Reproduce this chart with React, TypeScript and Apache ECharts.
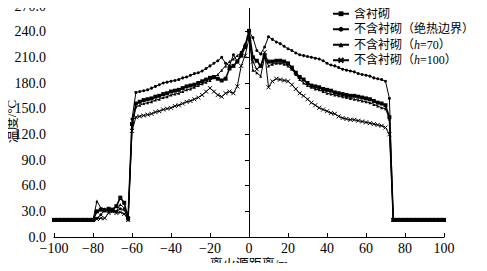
import React, { useEffect, useRef } from "react";
import * as echarts from "echarts";

const distance: number[] = [];
for (let x = -100; x <= 100; x += 2) distance.push(x);

const seriesNames = ["含衬砌", "不含衬砌（绝热边界）", "不含衬砌（h=70）", "不含衬砌（h=100）"];

const base11 = [20, 20, 20, 20, 20, 20, 20, 20, 20, 20, 20]; // -100..-80
const tail13 = [20, 20, 20, 20, 20, 20, 20, 20, 20, 20, 20, 20, 20]; // 76..100

// 含衬砌 (-78 .. 74)
const withLining = [
  ...base11,
  30, 32, 31, 33, 32, 36, 46, 40, 22, 132,
  156, 158, 160, 161, 162, 164, 165, 167, 168, 170,
  171, 172, 174, 176, 177, 178, 180, 182, 184, 186,
  187, 185, 183, 185, 197, 200, 205, 212, 222, 241,
  210, 206, 200, 212, 205, 205, 206, 206, 205, 203,
  198, 192, 187, 184, 180, 177, 176, 175, 173, 172,
  171, 169, 168, 167, 166, 165, 165, 164, 163, 162,
  161, 159, 157, 156, 154, 140, 20,
  ...tail13,
];

const adiabatic = [
  ...base11,
  22, 26, 32, 31, 30, 30, 33, 32, 20, 138,
  169, 170, 171, 172, 174, 176, 178, 180, 181, 182,
  183, 184, 186, 187, 189, 191, 192, 194, 197, 200,
  203, 206, 210, 203, 200, 213, 205, 216, 225, 240,
  233, 218, 214, 222, 234, 231, 228, 226, 223, 220,
  218, 215, 213, 212, 211, 210, 209, 208, 206, 203,
  201, 200, 198, 196, 195, 194, 193, 191, 190, 189,
  188, 186, 185, 184, 182, 162, 20,
  ...tail13,
];

const h70 = [
  ...base11,
  42, 34, 33, 30, 32, 30, 38, 34, 21, 128,
  152, 154, 156, 157, 158, 160, 161, 163, 164, 166,
  167, 168, 170, 172, 173, 175, 177, 179, 181, 183,
  186, 190, 195, 200, 205, 208, 212, 215, 225, 235,
  195, 192, 188, 210, 200, 202, 203, 203, 202, 200,
  196, 190, 184, 180, 177, 175, 173, 172, 170, 168,
  167, 166, 165, 164, 163, 162, 161, 160, 159, 158,
  157, 155, 153, 151, 150, 138, 20,
  ...tail13,
];

const h100 = [
  ...base11,
  21, 22, 22, 28, 30, 28, 29, 27, 20, 124,
  140, 141, 142, 143, 144, 146, 147, 149, 150, 151,
  153, 154, 156, 158, 159, 161, 163, 166, 170, 174,
  170, 166, 164, 168, 170, 168, 176, 200, 212, 232,
  205, 196, 200, 216, 175, 182, 185, 184, 183, 182,
  178, 173, 168, 165, 161, 157, 154, 151, 149, 147,
  145, 144, 141, 139, 138, 137, 137, 136, 135, 134,
  133, 132, 131, 130, 128, 120, 20,
  ...tail13,
];

const seriesValues = [withLining, adiabatic, h70, h100];
const symbols = ["rect", "circle", "triangle", "path://M0,0L10,10M10,0L0,10"];
const symbolSizes = [4, 3, 3, 4];
const lineWidths = [1.6, 1, 1, 1];

const serif = "'Liberation Serif', 'Times New Roman', 'Noto Sans CJK SC', serif";

export default function App() {
  const ref = useRef<HTMLDivElement>(null);
  useEffect(() => {
    if (!ref.current) return;
    const chart = echarts.init(ref.current, null, { renderer: "svg" });
    const fmtX = (v: number) => (v < 0 ? "\u2212" + Math.abs(v) : String(v));
    chart.setOption({
      animation: false,
      backgroundColor: "#fff",
      grid: {
        left: 54,
        right: 43,
        top: 6,
        bottom: 34,
        containLabel: false,
        outerBoundsMode: "none",
      },
      legend: {
        orient: "vertical",
        left: 332,
        top: 7,
        padding: 0,
        itemWidth: 16,
        itemHeight: 6,
        itemGap: 2,
        data: seriesNames,
        textStyle: {
          fontFamily: serif,
          fontSize: 12,
          lineHeight: 13.5,
          color: "#000",
          rich: {
            i: { fontStyle: "italic", fontFamily: serif, fontSize: 12, lineHeight: 13.5, color: "#000" },
          },
        },
        formatter: (name: string) => name.replace("h=", "{i|h}="),
      },
      xAxis: {
        type: "value",
        min: -100,
        max: 100,
        interval: 20,
        name: "离火源距离/m",
        nameLocation: "middle",
        nameGap: 20,
        nameMoveOverlap: false,
        nameTextStyle: { fontFamily: serif, fontSize: 13, color: "#000" },
        axisLine: { onZero: false, lineStyle: { color: "#000", width: 1 } },
        axisTick: { inside: true, length: 4, lineStyle: { color: "#000" } },
        axisLabel: { formatter: fmtX, fontFamily: serif, fontSize: 14, color: "#000", margin: 4 },
        splitLine: { show: false },
      },
      yAxis: {
        type: "value",
        min: 0,
        max: 270,
        interval: 30,
        name: "温度/°C",
        nameLocation: "middle",
        nameGap: 36,
        nameMoveOverlap: false,
        nameTextStyle: { fontFamily: serif, fontSize: 13, color: "#000" },
        axisLine: { show: true, lineStyle: { color: "#000", width: 1 } },
        axisTick: { show: true, length: 4, lineStyle: { color: "#000" } },
        axisLabel: {
          formatter: (v: number) => v.toFixed(1),
          fontFamily: serif,
          fontSize: 14,
          color: "#000",
          margin: 8,
        },
        splitLine: { show: false },
      },
      series: seriesNames.map((name, k) => ({
        name,
        type: "line",
        data: distance.map((x, i) => [x, seriesValues[k][i]]),
        symbol: symbols[k],
        symbolSize: symbolSizes[k],
        showSymbol: true,
        showAllSymbol: true,
        lineStyle: { color: "#000", width: lineWidths[k] },
        itemStyle:
          k === 3
            ? { color: "#000", borderColor: "#000", borderWidth: 1 }
            : { color: "#000" },
        emphasis: { disabled: true },
        z: 4 - k,
      })),
    });
    return () => chart.dispose();
  }, []);
  return <div ref={ref} style={{ width: 487, height: 271, margin: -8 }} />;
}
